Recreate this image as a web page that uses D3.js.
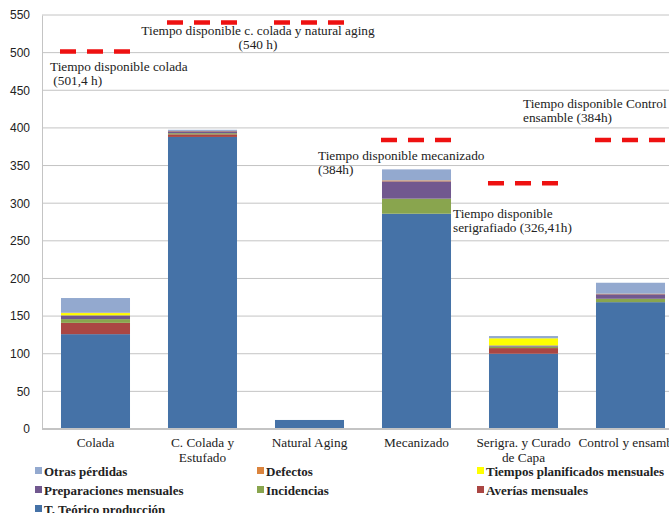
<!DOCTYPE html>
<html>
<head>
<meta charset="utf-8">
<script src="https://cdn.jsdelivr.net/npm/d3@7"></script>
<style>
  body { margin: 0; background: #fff; }
  svg { display: block; }
</style>
</head>
<body>
<script>
// categories (x axis)
var categories = ["Colada", "C. Colada y Estufado", "Natural Aging", "Mecanizado", "Serigra. y Curado de Capa", "Control y ensamble"];
var catLines = [["Colada"], ["C. Colada y", "Estufado"], ["Natural Aging"], ["Mecanizado"], ["Serigra. y Curado", "de Capa"], ["Control y ensamble"]];

// series, bottom of the stack first
var seriesNames = ["T. Teórico producción", "Averías mensuales", "Incidencias", "Preparaciones mensuales", "Tiempos planificados mensuales", "Defectos", "Otras pérdidas"];
var teorico      = [126, 388, 12, 286, 100, 168.5];
var averias      = [15, 3.5, 0, 0, 7.5, 0];
var incidencias  = [5, 1.5, 0, 20, 2, 4.5];
var preparacion  = [5, 2.5, 0, 23, 1.5, 6];
var planificados = [3, 0, 0, 0, 9.5, 0];
var defectos     = [0.5, 0.5, 0, 1.3, 0, 0.8];
var otras        = [19.5, 1.5, 0, 14.6, 3, 14.5];

// available time per process (red dashed lines)
var disponible = [501.4, 540, 540, 384, 326.41, 384];

var yTicks = [0, 50, 100, 150, 200, 250, 300, 350, 400, 450, 500, 550];

var colors = ["#4572A7", "#AA4643", "#89A54E", "#71588F", "#FFFF00", "#DB843D", "#93A9CF"];

var width = 669, height = 513;
var serif = "'Liberation Serif', 'Times New Roman', serif";
var svg = d3.select("body").append("svg")
  .attr("width", width)
  .attr("height", height);

// scales
var x = d3.scaleBand()
  .domain(categories)
  .range([42, 42 + 6 * 107])
  .paddingInner(0.355)
  .paddingOuter(0.1775);

var y = d3.scaleLinear()
  .domain([0, 550])
  .range([429, 15]);

// gridlines
svg.append("g")
  .selectAll("line")
  .data(yTicks.filter(function(d) { return d > 0; }))
  .enter()
  .append("line")
  .attr("x1", 42)
  .attr("x2", width)
  .attr("y1", function(d) { return y(d); })
  .attr("y2", function(d) { return y(d); })
  .attr("stroke", "#c4c4c4")
  .attr("stroke-width", 1);

// y axis
var yAxis = svg.append("g")
  .attr("transform", "translate(42,0)")
  .call(d3.axisLeft(y).tickValues(yTicks).tickSize(0).tickPadding(12));
yAxis.select(".domain").attr("stroke", "#c4c4c4");
yAxis.selectAll("text")
  .style("font-family", "'Liberation Sans', Arial, sans-serif")
  .style("font-size", "12px")
  .attr("fill", "#222");

// stacked data
var table = categories.map(function(c, i) {
  var row = {cat: c};
  row[seriesNames[0]] = teorico[i];
  row[seriesNames[1]] = averias[i];
  row[seriesNames[2]] = incidencias[i];
  row[seriesNames[3]] = preparacion[i];
  row[seriesNames[4]] = planificados[i];
  row[seriesNames[5]] = defectos[i];
  row[seriesNames[6]] = otras[i];
  return row;
});
var stacked = d3.stack().keys(seriesNames)(table);

svg.append("g")
  .selectAll("g")
  .data(stacked)
  .enter()
  .append("g")
  .attr("fill", function(d, i) { return colors[i]; })
  .selectAll("rect")
  .data(function(d) { return d; })
  .enter()
  .append("rect")
  .attr("x", function(d) { return x(d.data.cat); })
  .attr("width", x.bandwidth())
  .attr("y", function(d) { return y(d[1]); })
  .attr("height", function(d) { return y(d[0]) - y(d[1]); });

// baseline
svg.append("line")
  .attr("x1", 42).attr("x2", width)
  .attr("y1", y(0)).attr("y2", y(0))
  .attr("stroke", "#c4c4c4")
  .attr("stroke-width", 2);

// category labels
var catG = svg.append("g")
  .selectAll("text")
  .data(catLines)
  .enter()
  .append("text")
  .attr("x", function(d, i) { return x(categories[i]) + x.bandwidth() / 2; })
  .attr("y", 447)
  .attr("text-anchor", "middle")
  .style("font-family", serif)
  .style("font-size", "13.3px")
  .attr("fill", "#222");
catG.selectAll("tspan")
  .data(function(d) { return d; })
  .enter()
  .append("tspan")
  .attr("x", function() { return d3.select(this.parentNode).attr("x"); })
  .attr("dy", function(d, i) { return i === 0 ? 0 : 15; })
  .text(function(d) { return d; });

// available time dashed lines
svg.append("g")
  .selectAll("line")
  .data(disponible)
  .enter()
  .append("line")
  .attr("x1", function(d, i) { return x(categories[i]) - 1; })
  .attr("x2", function(d, i) { return x(categories[i]) + x.bandwidth() + 1; })
  .attr("y1", function(d) { return y(d); })
  .attr("y2", function(d) { return y(d); })
  .attr("stroke", "#EE1111")
  .attr("stroke-width", 4.5)
  .attr("stroke-dasharray", "16,11");

// annotations
var notes = [
  {lines: ["Tiempo disponible colada", " (501,4 h)"], x: 50, y: 71, anchor: "start"},
  {lines: ["Tiempo disponible c. colada y natural aging", "(540 h)"], x: 258, y: 35, anchor: "middle"},
  {lines: ["Tiempo disponible Control", "ensamble (384h)"], x: 523, y: 108, anchor: "start"},
  {lines: ["Tiempo disponible mecanizado", "(384h)"], x: 318, y: 160, anchor: "start"},
  {lines: ["Tiempo disponible", "serigrafiado (326,41h)"], x: 453, y: 218, anchor: "start"}
];
var noteG = svg.append("g")
  .selectAll("text")
  .data(notes)
  .enter()
  .append("text")
  .attr("x", function(d) { return d.x; })
  .attr("y", function(d) { return d.y; })
  .attr("text-anchor", function(d) { return d.anchor; })
  .style("font-family", serif)
  .style("font-size", "13.3px")
  .attr("fill", "#222");
noteG.selectAll("tspan")
  .data(function(d) { return d.lines.map(function(l) { return {t: l, x: d.x}; }); })
  .enter()
  .append("tspan")
  .attr("x", function(d) { return d.x; })
  .attr("dy", function(d, i) { return i === 0 ? 0 : 14; })
  .text(function(d) { return d.t; });

// legend
var legendOrder = [6, 5, 4, 3, 2, 1, 0];
var legendCols = [35, 257, 477];
var legendRows = [476, 495, 514];
var legend = svg.append("g")
  .selectAll("g")
  .data(legendOrder)
  .enter()
  .append("g")
  .attr("transform", function(d, i) {
    return "translate(" + legendCols[i % 3] + "," + legendRows[Math.floor(i / 3)] + ")";
  });
legend.append("rect")
  .attr("x", 0)
  .attr("y", -9)
  .attr("width", 7)
  .attr("height", 7)
  .attr("fill", function(d) { return colors[d]; });
legend.append("text")
  .attr("x", 9)
  .attr("y", 0)
  .style("font-family", serif)
  .style("font-size", "13px")
  .style("font-weight", "bold")
  .attr("fill", "#222")
  .text(function(d) { return seriesNames[d]; });
</script>
</body>
</html>
